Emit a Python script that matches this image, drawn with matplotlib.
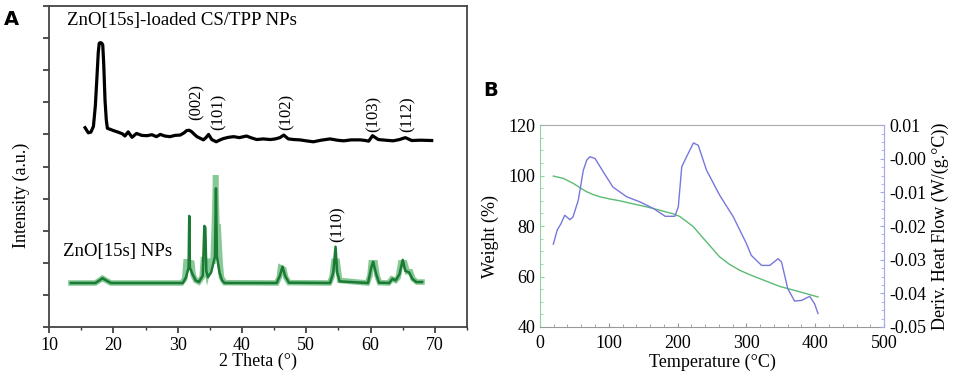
import numpy as np
import matplotlib
matplotlib.use("Agg")
import matplotlib.pyplot as plt
from matplotlib.ticker import MultipleLocator, FixedLocator

plt.rcParams['font.family'] = ['Liberation Serif', 'DejaVu Serif']
plt.rcParams['axes.unicode_minus'] = False

# ---- Panel A: XRD patterns (2 Theta, arbitrary intensity units) ----
loaded_x = [15.6, 16.1, 16.5, 16.9, 17.2, 17.45, 17.65, 17.8, 18.0, 18.2, 18.35, 18.5,
            18.7, 18.9, 19.07, 19.5, 20.0, 20.6, 21.0, 21.4, 21.8, 22.3, 22.9, 23.6,
            24.4, 25.2, 26.0, 26.7, 27.3, 28.0, 28.8, 29.6, 30.4, 31.0, 31.4, 31.8,
            32.2, 32.6, 33.0, 33.5, 34.0, 34.4, 34.8, 35.3, 36.0, 36.6, 37.1, 37.9,
            38.7, 39.6, 40.7, 41.5, 42.3, 43.3, 44.4, 45.2, 45.9, 46.5, 47.2, 48.1,
            49.0, 50.0, 51.1, 52.3, 53.7, 54.8, 55.8, 57.0, 58.4, 59.2, 59.7, 60.3,
            61.2, 62.3, 63.5, 64.5, 65.4, 66.4, 67.8, 69.5]
loaded_y = [6.21, 6.05, 6.07, 6.25, 6.90, 7.80, 8.55, 8.84, 8.86, 8.84, 8.79, 8.20,
            7.07, 6.45, 6.19, 6.16, 6.12, 6.08, 6.05, 6.02, 5.95, 6.08, 5.91, 6.03,
            5.97, 5.96, 5.99, 5.93, 6.00, 5.95, 5.93, 5.97, 5.98, 6.05, 6.12, 6.13,
            6.08, 6.00, 5.93, 5.88, 5.83, 5.90, 6.00, 5.84, 5.77, 5.83, 5.87, 5.91,
            5.93, 5.90, 5.95, 5.89, 5.84, 5.86, 5.84, 5.86, 5.90, 5.98, 5.86, 5.84,
            5.83, 5.80, 5.77, 5.82, 5.86, 5.82, 5.80, 5.83, 5.83, 5.81, 5.79, 5.96,
            5.84, 5.82, 5.80, 5.84, 5.90, 5.81, 5.82, 5.81]

# light green (broad) trace of ZnO[15s] NPs
zno_light_x = [13.4, 17.2, 17.9, 18.3, 18.8, 19.6, 30.6, 31.1, 31.3, 31.5, 32.2, 32.4,
               32.8, 33.3, 33.8, 34.0, 34.2, 34.6, 35.0, 35.5, 35.7, 35.9, 36.1, 36.3,
               36.6, 36.8, 37.3, 45.4, 45.8, 46.0, 46.5, 46.8, 47.3, 53.6, 54.0, 54.3,
               54.8, 55.2, 59.5, 59.9, 60.1, 60.7, 61.0, 61.4, 62.8, 63.3, 63.9, 64.3,
               64.7, 65.3, 65.7, 66.2, 66.6, 67.2, 68.0]
zno_light_y = [1.37, 1.37, 1.46, 1.52, 1.46, 1.37, 1.37, 1.50, 2.03, 2.03, 2.00, 1.62,
               1.45, 1.40, 1.55, 2.10, 2.10, 1.70, 2.05, 2.05, 3.12, 4.73, 3.12, 3.12,
               2.00, 1.55, 1.38, 1.37, 1.55, 1.85, 1.80, 1.55, 1.38, 1.37, 1.55, 2.05,
               2.05, 1.45, 1.37, 1.60, 2.00, 2.00, 1.60, 1.38, 1.37, 1.50, 1.45, 1.55,
               2.00, 2.00, 1.72, 1.72, 1.50, 1.40, 1.40]

# dark green (sharp) trace of ZnO[15s] NPs
zno_dark_x = [13.4, 17.2, 17.9, 18.3, 18.8, 19.6, 30.8, 31.3, 31.7, 31.8, 31.9, 32.3,
              32.8, 33.3, 33.9, 34.15, 34.3, 34.45, 34.7, 35.2, 35.8, 35.95, 36.1, 36.5,
              36.9, 37.3, 45.4, 45.9, 46.3, 46.7, 47.3, 53.7, 54.2, 54.55, 54.8, 55.2,
              59.6, 60.1, 60.4, 60.8, 61.3, 62.9, 63.4, 63.9, 64.5, 65.0, 65.4, 66.0,
              66.5, 67.1, 68.0]
zno_dark_y = [1.37, 1.37, 1.46, 1.52, 1.46, 1.37, 1.37, 1.55, 1.85, 3.46, 1.85, 1.65,
              1.45, 1.40, 1.60, 3.15, 3.10, 1.75, 1.55, 1.70, 2.20, 4.32, 2.20, 1.70,
              1.45, 1.37, 1.37, 1.60, 1.88, 1.60, 1.38, 1.37, 1.70, 2.50, 1.70, 1.42,
              1.37, 1.85, 2.03, 1.70, 1.38, 1.37, 1.50, 1.45, 1.65, 2.09, 1.75, 1.70,
              1.50, 1.40, 1.40]

peak_labels = ['(002)', '(101)', '(102)', '(103)', '(112)', '(110)']
peak_pos = [33.0, 36.3, 47.0, 60.4, 65.7, 54.9]
peak_base = [6.45, 6.14, 6.14, 6.07, 6.07, 2.65]

# ---- Panel B: TGA / DSC ----
temp_w = [19.4, 33.9, 48.4, 58, 67.8, 77, 87, 100, 116, 135, 155, 175, 194, 203, 212,
          223, 232, 242, 252, 261, 275, 290, 305, 319, 334, 348, 363, 378, 391, 404]
weight = [99.8, 98.9, 96.9, 95.2, 93.6, 92.5, 91.6, 90.8, 90.0, 88.8, 87.6, 86.2,
          84.8, 83.8, 82.0, 79.7, 76.8, 73.7, 70.6, 67.8, 64.9, 62.5, 60.7, 59.2,
          57.6, 56.1, 55.0, 53.9, 52.9, 51.9]

temp_h = [19.4, 25, 30, 36, 43.6, 48, 55.7, 63, 68, 72.6, 80, 92, 106, 126, 145, 165,
          182, 196, 201, 206, 213, 223, 230, 242, 261, 281, 300, 307, 322, 334, 346,
          351, 360, 370, 380, 392, 399, 404]
heat_flow = [-0.0254, -0.0212, -0.0195, -0.0168, -0.0181, -0.0173, -0.0123, -0.0034,
             -0.0004, 0.0006, 0.0001, -0.0039, -0.0084, -0.0113, -0.0128, -0.0148,
             -0.0171, -0.0171, -0.0143, -0.0024, 0.0006, 0.0047, 0.0040, -0.0034,
             -0.0108, -0.0173, -0.0252, -0.0287, -0.0317, -0.0317, -0.0297, -0.0307,
             -0.0386, -0.0423, -0.0421, -0.0409, -0.0431, -0.0460]
hf_ticks = [-0.05, -0.04, -0.03, -0.02, -0.01, 0.0, 0.01]
hf_tick_labels = ['-0.05', '-0.04', '-0.03', '-0.02', '-0.01', '-0.00', '0.01']

fig = plt.figure(figsize=(9.62, 3.78), dpi=100)

# ---------------- Panel A ----------------
axA = fig.add_axes([0.051, 0.135, 0.4345, 0.849])
axA.plot(loaded_x, loaded_y, color='black', lw=2.3, solid_joinstyle='round')
axA.plot(zno_light_x, zno_light_y, color='#86c996', lw=4.0, solid_joinstyle='miter')
axA.plot(zno_dark_x, zno_dark_y, color='#1b7a33', lw=1.8)
for lab, xp, yb in zip(peak_labels, peak_pos, peak_base):
    axA.text(xp, yb, lab, rotation=90, ha='center', va='bottom', fontsize=12)
axA.text(12.8, 9.55, 'ZnO[15s]-loaded CS/TPP NPs', fontsize=13.5, va='center')
axA.text(12.1, 2.35, 'ZnO[15s] NPs', fontsize=13.5, va='center')

axA.set_xlim(10, 75)
axA.set_ylim(0, 10)
axA.xaxis.set_major_locator(MultipleLocator(10))
axA.xaxis.set_minor_locator(MultipleLocator(5))
axA.yaxis.set_major_locator(MultipleLocator(1))
axA.set_yticklabels([])
axA.set_xticks([10, 20, 30, 40, 50, 60, 70])
axA.tick_params(axis='both', which='major', direction='out', length=4, width=1.2,
                labelsize=13, colors='#333333', labelcolor='black')
axA.tick_params(axis='x', which='minor', direction='out', length=2.5, width=1.0,
                colors='#333333')
for s in axA.spines.values():
    s.set_color('#444444')
    s.set_linewidth(1.3)
axA.set_xlabel('2 Theta (°)', fontsize=13, labelpad=-1)
axA.set_ylabel('Intensity (a.u.)', fontsize=13)
axA.yaxis.set_label_coords(-0.045, 0.41)

fig.text(0.004, 0.935, 'A', fontsize=14, fontweight='bold', family='DejaVu Sans')

# ---------------- Panel B ----------------
green = '#5cbb72'
blue = '#7777dd'
axB = fig.add_axes([0.5613, 0.135, 0.3577, 0.534])
axB.plot(temp_w, weight, color=green, lw=1.0)
axB.set_xlim(0, 500)
axB.set_ylim(40, 120)
axB.xaxis.set_major_locator(MultipleLocator(100))
axB.xaxis.set_minor_locator(MultipleLocator(20))
axB.yaxis.set_major_locator(MultipleLocator(20))
axB.yaxis.set_minor_locator(MultipleLocator(5))
axB.tick_params(axis='x', which='both', direction='in', colors='#999999',
                labelcolor='black', labelsize=13, pad=6)
axB.tick_params(axis='x', which='major', length=3)
axB.tick_params(axis='x', which='minor', length=2)
axB.tick_params(axis='y', which='both', direction='in', colors='#8fd49c',
                labelcolor='black', labelsize=13)
axB.tick_params(axis='y', which='major', length=3)
axB.tick_params(axis='y', which='minor', length=2)
axB.spines['left'].set_color('#8fd49c')
axB.spines['right'].set_color('#a8a8ec')
axB.spines['top'].set_color('#aaaaaa')
axB.spines['bottom'].set_color('#999999')
axB.set_xlabel('Temperature (°C)', fontsize=13, labelpad=1)
axB.set_ylabel('Weight (%)', fontsize=13, labelpad=2)
axB.yaxis.set_label_coords(-0.12, 0.45)

axB2 = axB.twinx()
axB2.plot(temp_h, heat_flow, color=blue, lw=1.0)
axB2.set_ylim(-0.05, 0.01)
axB2.yaxis.set_major_locator(FixedLocator(hf_ticks))
axB2.set_yticklabels(hf_tick_labels)
axB2.yaxis.set_minor_locator(MultipleLocator(0.0025))
axB2.tick_params(axis='y', which='both', direction='in', colors='#a8a8ec',
                 labelcolor='black', labelsize=13)
axB2.tick_params(axis='y', which='major', length=3)
axB2.tick_params(axis='y', which='minor', length=2)
for side in ['left', 'top', 'bottom']:
    axB2.spines[side].set_visible(False)
axB2.spines['right'].set_color('#a8a8ec')
axB2.set_ylabel('Deriv. Heat Flow (W/(g.°C))', fontsize=13, labelpad=4)

fig.text(0.502, 0.745, 'B', fontsize=14, fontweight='bold', family='DejaVu Sans')

fig.savefig('out.png', dpi=100)
